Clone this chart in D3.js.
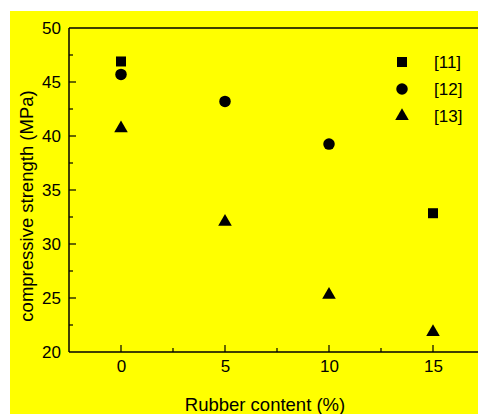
<!DOCTYPE html>
<html><head><meta charset="utf-8">
<script src="https://cdn.jsdelivr.net/npm/d3@7"></script>
<style>body{margin:0;background:#fff;}svg{display:block;}</style>
</head><body>
<script>
const seriesNames = ["[11]", "[12]", "[13]"];
const series11 = [{x: 0, y: 46.9}, {x: 15, y: 32.85}];
const series12 = [{x: 0, y: 45.7}, {x: 5, y: 43.2}, {x: 10, y: 39.25}];
const series13 = [{x: 0, y: 40.7}, {x: 5, y: 32.05}, {x: 10, y: 25.3}, {x: 15, y: 21.85}];
const xTicks = [0, 5, 10, 15];
const yTicks = [20, 25, 30, 35, 40, 45, 50];

(function () {
const W = 478, H = 414;
const svg = d3.select("body").append("svg").attr("width", W).attr("height", H);
svg.append("rect").attr("x", 10).attr("y", 11).attr("width", W - 10).attr("height", H - 11).attr("fill", "#ffff00");

const pLeft = 69, pTop = 28, pBottom = 352;
const x = d3.scaleLinear().domain([-2.5, 17.5]).range([pLeft, pLeft + 416]);
const y = d3.scaleLinear().domain([20, 50]).range([pBottom, pTop]);
const font = "Liberation Sans, Arial, sans-serif";

const g = svg.append("g");
const yAxis = d3.axisLeft(y).tickValues(yTicks).tickSize(0).tickPadding(8);
const ya = g.append("g").attr("transform", `translate(${pLeft},0)`).call(yAxis);
ya.select(".domain").remove();
ya.selectAll("text").attr("font-family", font).attr("font-size", 17).attr("fill", "#000");
const xAxis = d3.axisBottom(x).tickValues(xTicks).tickSize(0).tickPadding(8);
const xa = g.append("g").attr("transform", `translate(0,${pBottom})`).call(xAxis);
xa.select(".domain").remove();
xa.selectAll("text").attr("font-family", font).attr("font-size", 17).attr("fill", "#000");

g.append("line").attr("x1", pLeft).attr("x2", pLeft).attr("y1", pTop).attr("y2", pBottom).attr("stroke", "#000").attr("stroke-width", 1.5);
g.append("line").attr("x1", pLeft).attr("x2", W).attr("y1", pTop).attr("y2", pTop).attr("stroke", "#000").attr("stroke-width", 1.5);
g.append("line").attr("x1", pLeft).attr("x2", W).attr("y1", pBottom).attr("y2", pBottom).attr("stroke", "#000").attr("stroke-width", 1.5);

const yMinor = d3.range(22.5, 50, 5);
g.selectAll(".ymaj").data(yTicks.filter(d => d > 20 && d < 50)).join("line")
  .attr("x1", pLeft).attr("x2", pLeft + 7).attr("y1", d => y(d)).attr("y2", d => y(d)).attr("stroke", "#000").attr("stroke-width", 1.2);
g.selectAll(".ymin").data(yMinor).join("line")
  .attr("x1", pLeft).attr("x2", pLeft + 4).attr("y1", d => y(d)).attr("y2", d => y(d)).attr("stroke", "#000").attr("stroke-width", 1.2);
const xMinor = [2.5, 7.5, 12.5];
g.selectAll(".xmaj").data(xTicks).join("line")
  .attr("x1", d => x(d)).attr("x2", d => x(d)).attr("y1", pBottom).attr("y2", pBottom - 7).attr("stroke", "#000").attr("stroke-width", 1.2);
g.selectAll(".xmin").data(xMinor).join("line")
  .attr("x1", d => x(d)).attr("x2", d => x(d)).attr("y1", pBottom).attr("y2", pBottom - 4).attr("stroke", "#000").attr("stroke-width", 1.2);

svg.append("text").attr("x", 265).attr("y", 411).attr("text-anchor", "middle")
  .attr("font-family", font).attr("font-size", 18.5).text("Rubber content (%)");
svg.append("text").attr("transform", `translate(33,206) rotate(-90)`).attr("text-anchor", "middle")
  .attr("font-family", font).attr("font-size", 18.5).text("compressive strength (MPa)");

const sym = [d3.symbolSquare, d3.symbolCircle, d3.symbolTriangle];
const sizes = [100, 104, 80];
const all = [series11, series12, series13];
all.forEach((s, i) => {
  svg.selectAll(".m" + i).data(s).join("path").attr("class", "m" + i)
    .attr("d", d3.symbol().type(sym[i]).size(sizes[i]))
    .attr("transform", d => `translate(${x(d.x)},${y(d.y)})`).attr("fill", "#000");
});

seriesNames.forEach((n, i) => {
  const ly = 62 + i * 27;
  svg.append("path").attr("d", d3.symbol().type(sym[i]).size(sizes[i])).attr("transform", `translate(402,${ly})`).attr("fill", "#000");
  svg.append("text").attr("x", 434).attr("y", ly + 5.5).attr("font-family", font).attr("font-size", 17).text(n);
});
})();
</script>
</body></html>
